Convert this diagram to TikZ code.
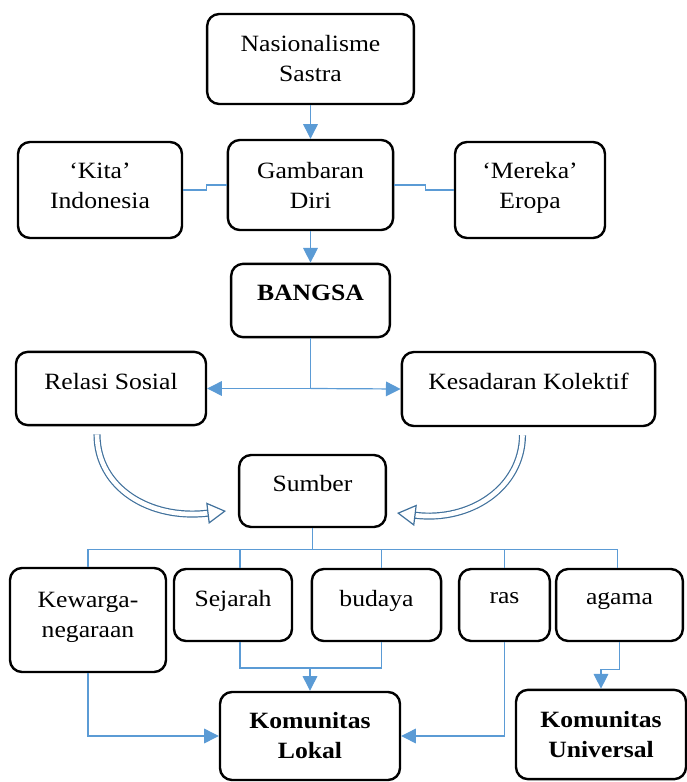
\documentclass[tikz,border=0pt]{standalone}
\usepackage{fontspec}
\setmainfont{Liberation Serif}[FakeStretch=1.1]
\usetikzlibrary{arrows.meta,calc}

\definecolor{linkblue}{RGB}{91,155,213}
\definecolor{curveblue}{RGB}{65,113,156}

\tikzset{
  box/.style={draw, line width=1.8pt, rounded corners=9pt, align=center, inner sep=2pt,
    font=\fontsize{17.5}{22.5}\selectfont},
  lift/.style={text depth=#1},
  link/.style={draw=linkblue, line width=0.9pt},
  arr/.style={link, -{Triangle[length=11pt,width=11pt]}},
  hollow/.style={draw=curveblue, line width=0.9pt, double=white, double distance=3.5pt,
    -{Triangle[open,length=14pt,width=16pt]}}
}

\begin{document}
\begin{tikzpicture}[x=0.75pt,y=0.75pt,yscale=-1,xscale=1]
    \useasboundingbox (0,0) rectangle (686,782);

    %Shape: Rounded Rect [top row]
    \node [box, minimum width=155pt, minimum height=67.5pt] (nas) at (310.5,59) {Nasionalisme\\Sastra};
    \node [box, minimum width=123pt, minimum height=72pt, lift=7pt] (kita) at (100,190) {`Kita'\\Indonesia};
    \node [box, minimum width=124pt, minimum height=67.5pt] (gam) at (310.5,185) {Gambaran\\Diri};
    \node [box, minimum width=112.5pt, minimum height=72pt, lift=7pt] (mer) at (530,190) {`Mereka'\\Eropa};
    %Shape: Rounded Rect [middle]
    \node [box, minimum width=119pt, minimum height=55pt, lift=11pt] (bangsa) at (310.5,300.5) {\textbf{BANGSA}};
    \node [box, minimum width=142.5pt, minimum height=55pt, lift=11pt] (relasi) at (111,388.5) {Relasi Sosial};
    \node [box, minimum width=190pt, minimum height=55.5pt, lift=11pt] (kesad) at (528.5,389) {Kesadaran Kolektif};
    \node [box, minimum width=110pt, minimum height=54pt, lift=11pt] (sumber) at (312.5,491) {Sumber};
    %Shape: Rounded Rect [sources]
    \node [box, minimum width=117pt, minimum height=78pt, lift=8pt] (kew) at (88,620) {Kewarga-\\negaraan};
    \node [box, minimum width=88.5pt, minimum height=54pt, lift=10pt] (sej) at (233,605) {Sejarah};
    \node [box, minimum width=97pt, minimum height=54pt, lift=10pt] (bud) at (376.5,605) {budaya};
    \node [box, minimum width=68pt, minimum height=54pt, lift=10pt] (ras) at (504.5,605) {ras};
    \node [box, minimum width=95pt, minimum height=54pt, lift=10pt] (aga) at (619.5,605) {agama};
    %Shape: Rounded Rect [communities]
    \node [box, minimum width=135pt, minimum height=66pt] (lokal) at (310,736) {\textbf{Komunitas}\\\textbf{Lokal}};
    \node [box, minimum width=127.5pt, minimum height=67pt] (univ) at (601,734.5) {\textbf{Komunitas}\\\textbf{Universal}};

    %Straight Lines
    \draw [arr] (nas) -- (gam);
    \draw [link] (kita.east) -- ++(23,0) |- (gam.west);
    \draw [link] (gam.east) -- ++(31,0) |- (mer.west);
    \draw [arr] (gam) -- (bangsa);
    \draw [link] (bangsa.south) -- (bangsa.south |- relasi.east) coordinate (split);
    \draw [arr] (split) -- (relasi.east);
    \draw [arr] (split) -- (kesad.west);

    %Curved Arrows
    \draw [hollow] ($(relasi.south)+(-14,8)$) .. controls (97,488) and (150,520) .. ($(sumber.west)+(-12,20)$);
    \draw [hollow] ($(kesad.south)+(-6,8)$) .. controls (522,488) and (470,522) .. ($(sumber.east)+(10,22)$);

    %Straight Lines [tree]
    \draw [link] (sumber.south) -- ++(0,21) coordinate (hub);
    \foreach \n/\dx in {kew/0,sej/7,bud/5,ras/0,aga/-2}
      \draw [link] (hub) -| ($(\n.north)+(\dx,0)$);

    %Straight Lines [to communities]
    \coordinate (join) at (lokal.north |- 0,668);
    \draw [link] ($(sej.south)+(7,0)$) |- (join) -| ($(bud.south)+(5,0)$);
    \draw [arr] (join) -- (lokal.north);
    \draw [arr] (kew.south) |- (lokal.west);
    \draw [arr] (ras.south) |- (lokal.east);
    \draw [arr] (aga.south) -- ++(0,27) -| (univ.north);

\end{tikzpicture}
\end{document}
